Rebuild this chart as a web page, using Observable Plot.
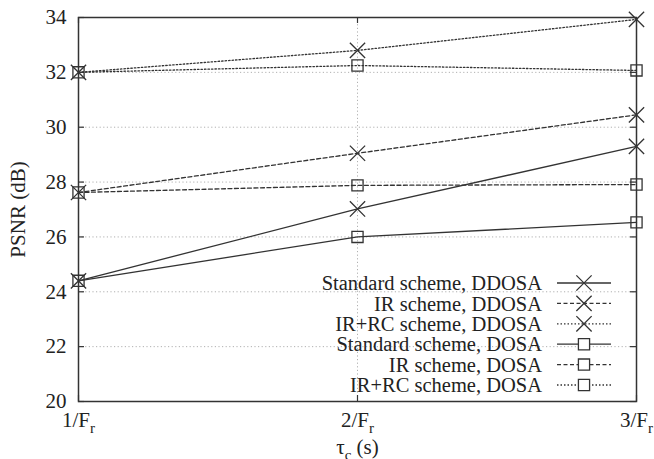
<!DOCTYPE html>
<html>
<head>
<meta charset="utf-8">
<script src="https://cdn.jsdelivr.net/npm/d3@7"></script>
<script src="https://cdn.jsdelivr.net/npm/@observablehq/plot@0.6"></script>
<style>
  html, body { margin: 0; padding: 0; background: #fff; }
  #chart svg { display: block; }
</style>
</head>
<body>
<div id="chart"></div>
<script>
// Symbol period multiples tau_c = k / F_r
const xSteps = [1, 2, 3];
const yTicks = [20, 22, 24, 26, 28, 30, 32, 34];

// PSNR (dB) for each scheme
const standardDDOSA = [24.4, 27.02, 29.3];
const irDDOSA = [27.62, 29.05, 30.45];
const irrcDDOSA = [32.0, 32.8, 33.93];
const standardDOSA = [24.4, 26.0, 26.53];
const irDOSA = [27.62, 27.88, 27.91];
const irrcDOSA = [32.0, 32.25, 32.07];

const seriesNames = [
  "Standard scheme, DDOSA",
  "IR scheme, DDOSA",
  "IR+RC scheme, DDOSA",
  "Standard scheme, DOSA",
  "IR scheme, DOSA",
  "IR+RC scheme, DOSA"
];
const seriesValues = [standardDDOSA, irDDOSA, irrcDDOSA, standardDOSA, irDOSA, irrcDOSA];

// line styles: solid / dashed / dotted, symbols: cross (DDOSA) / square (DOSA)
const dashes = [null, "4,2.5", "1.5,2"];
const styles = seriesNames.map((name, i) => ({
  name,
  dash: dashes[i % 3],
  symbol: i < 3 ? "times" : "square"
}));

const ink = "#333";
const font = "'Liberation Serif', 'Liberation Sans', sans-serif";
const W = 654, H = 459;
const mL = 78, mR = 18, mT = 17, mB = 58;
const plotW = W - mL - mR, plotH = H - mT - mB;

const rows = seriesValues.map((vals, i) => vals.map((v, j) => ({x: xSteps[j], y: v, s: i})));

const marks = [
  Plot.ruleY(yTicks.slice(1, -1), {stroke: "#b0b0b0", strokeDasharray: "1.2,2.4", strokeWidth: 1}),
  Plot.ruleX(xSteps.slice(1, -1), {stroke: "#b0b0b0", strokeDasharray: "1.2,2.4", strokeWidth: 1}),
  // inward ticks on all four sides
  Plot.tickY(yTicks, {y: d => d, insetRight: plotW - 6, stroke: ink, strokeWidth: 1.2}),
  Plot.tickY(yTicks, {y: d => d, insetLeft: plotW - 6, stroke: ink, strokeWidth: 1.2}),
  Plot.tickX(xSteps, {x: d => d, insetTop: plotH - 6, stroke: ink, strokeWidth: 1.2}),
  Plot.tickX(xSteps, {x: d => d, insetBottom: plotH - 6, stroke: ink, strokeWidth: 1.2}),
  Plot.axisY(yTicks, {tickSize: 0, tickPadding: 12, label: "PSNR (dB)", labelAnchor: "center", labelArrow: "none", labelOffset: 68}),
  Plot.axisX(xSteps, {tickSize: 0, tickPadding: 11, tickFormat: d => `${d}/F`, label: "τc (s)", labelAnchor: "center", labelArrow: "none", labelOffset: 52}),
  Plot.frame({stroke: ink, strokeWidth: 1.5})
];

rows.forEach((r, i) => {
  const st = styles[i];
  marks.push(Plot.line(r, {x: "x", y: "y", stroke: ink, strokeWidth: 1.3, strokeDasharray: st.dash}));
  marks.push(Plot.dot(r, {x: "x", y: "y", symbol: st.symbol, r: st.symbol === "times" ? 7 : 6.3, stroke: ink, strokeWidth: 1.3, fill: "none"}));
});

const chart = Plot.plot({
  width: W,
  height: H,
  marginLeft: mL,
  marginRight: mR,
  marginTop: mT,
  marginBottom: mB,
  style: {fontFamily: font, fontSize: "21px", color: "#222", background: "#fff"},
  x: {type: "linear", domain: [1, 3]},
  y: {domain: [20, 34]},
  marks
});

document.getElementById("chart").appendChild(chart);

const svg = d3.select(chart);

// subscript r on the tick labels
svg.selectAll('g[aria-label="x-axis tick label"] text').each(function() {
  const t = d3.select(this);
  const base = t.text();
  t.text(base);
  t.append("tspan").attr("dy", 6).attr("font-size", 15).text("r");
});

// subscript c in the x label
svg.selectAll('g[aria-label="x-axis label"] text').each(function() {
  const t = d3.select(this);
  t.text("τ");
  t.append("tspan").attr("dy", 6).attr("font-size", 15).text("c");
  t.append("tspan").attr("dy", -6).text(" (s)");
});

// legend in the lower right corner of the frame
const legend = svg.append("g")
  .attr("font-family", font)
  .attr("font-size", 20.5)
  .attr("fill", "#222");
const textRight = 542, lineX1 = 557, lineX2 = 611, symX = 584, row0 = 283, rowStep = 20.4;
styles.forEach((st, i) => {
  const y = row0 + i * rowStep;
  legend.append("text")
    .attr("x", textRight).attr("y", y)
    .attr("text-anchor", "end").attr("dy", "0.35em")
    .text(st.name);
  legend.append("line")
    .attr("x1", lineX1).attr("x2", lineX2).attr("y1", y).attr("y2", y)
    .attr("stroke", ink).attr("stroke-width", 1.3)
    .attr("stroke-dasharray", st.dash);
  const sym = st.symbol === "times" ? d3.symbolTimes : d3.symbolSquare;
  const r = st.symbol === "times" ? 7 : 6.3;
  legend.append("path")
    .attr("transform", `translate(${symX},${y})`)
    .attr("d", d3.symbol(sym, r * r * Math.PI)())
    .attr("fill", "#fff").attr("stroke", ink).attr("stroke-width", 1.3);
});
</script>
</body>
</html>
